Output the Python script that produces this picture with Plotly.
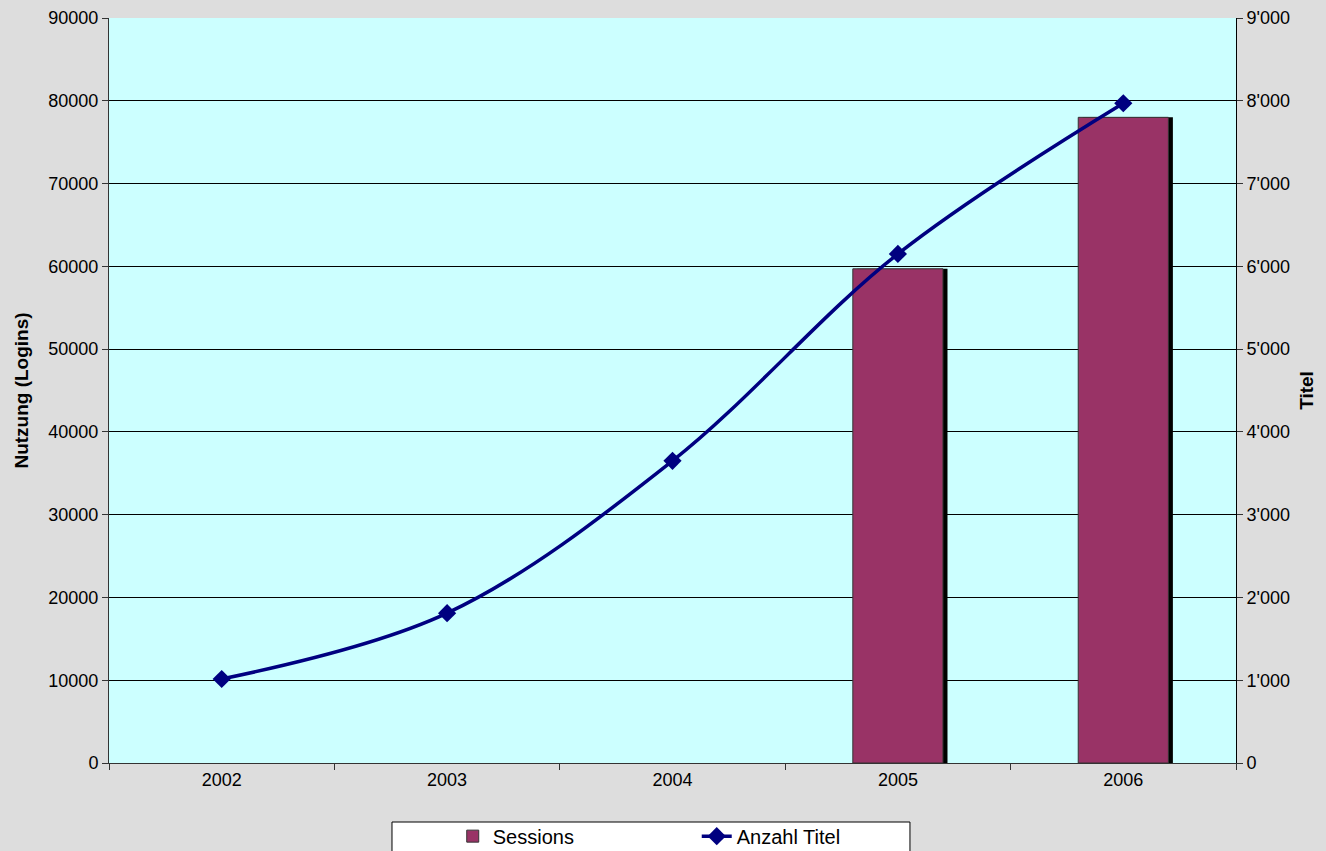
import plotly.graph_objects as go

years = ["2002", "2003", "2004", "2005", "2006"]
sessions = [None, None, None, 59700, 78000]
titel = [1015, 1810, 3650, 6150, 7970]

bar_color = "#993366"
line_color = "#000080"

fig = go.Figure()
# shadow
fig.add_trace(go.Bar(x=years, y=sessions, marker=dict(color="black", line=dict(width=0)),
                     width=0.4, offset=-0.18, showlegend=False, hoverinfo="skip"))
fig.add_trace(go.Bar(x=years, y=sessions, name="Sessions",
                     marker=dict(color=bar_color, line=dict(color="#333333", width=1)),
                     width=0.4, offset=-0.2))
fig.add_trace(go.Scatter(x=years, y=titel, name="Anzahl Titel", yaxis="y2",
                         mode="lines+markers", line=dict(color=line_color, width=3.5, shape="spline", smoothing=1),
                         marker=dict(symbol="diamond", size=14, color=line_color)))

font = "Liberation Sans, Arial, sans-serif"
fig.update_layout(
    width=1326, height=851,
    paper_bgcolor="#DDDDDD", plot_bgcolor="#CCFFFF",
    margin=dict(l=109, r=90, t=18, b=88, autoexpand=False),
    barmode="overlay",
    separators=".'",
    font=dict(family=font, size=18, color="black"),
    xaxis=dict(type="category", showline=True, linecolor="#333333", linewidth=1,
               ticks="outside", tickson="boundaries", ticklen=6, tickcolor="#333333",
               showgrid=False, mirror=False),
    yaxis=dict(range=[0, 90000], dtick=10000, tickformat="d", showgrid=True, gridcolor="black", gridwidth=1,
               showline=True, linecolor="#333333", linewidth=1, ticks="outside", ticklen=6, tickcolor="#333333",
               title=dict(text="<b>Nutzung (Logins)</b>", font=dict(size=19), standoff=14), zeroline=False),
    yaxis2=dict(range=[0, 9000], dtick=1000, tickformat=",d", overlaying="y", side="right",
                showgrid=False, showline=True, linecolor="black", linewidth=1, ticks="outside", ticklen=6,
                tickcolor="#333333", title=dict(text="<b>Titel</b>", font=dict(size=19), standoff=10), zeroline=False),
    legend=dict(orientation="h", x=0.305, xanchor="left", y=-0.072, yanchor="top",
                bgcolor="rgba(0,0,0,0)", borderwidth=0, font=dict(size=20),
                entrywidth=199, traceorder="normal"),
    shapes=[dict(type="rect", xref="paper", yref="paper", x0=0.2511, x1=0.7107, y0=-0.0792, y1=-0.2,
                 fillcolor="white", line=dict(color="black", width=1), layer="above")],
)

fig.write_html("out.html", config={"displayModeBar": False},
               post_script="document.body.style.margin='0';document.body.style.background='#DDDDDD';")
